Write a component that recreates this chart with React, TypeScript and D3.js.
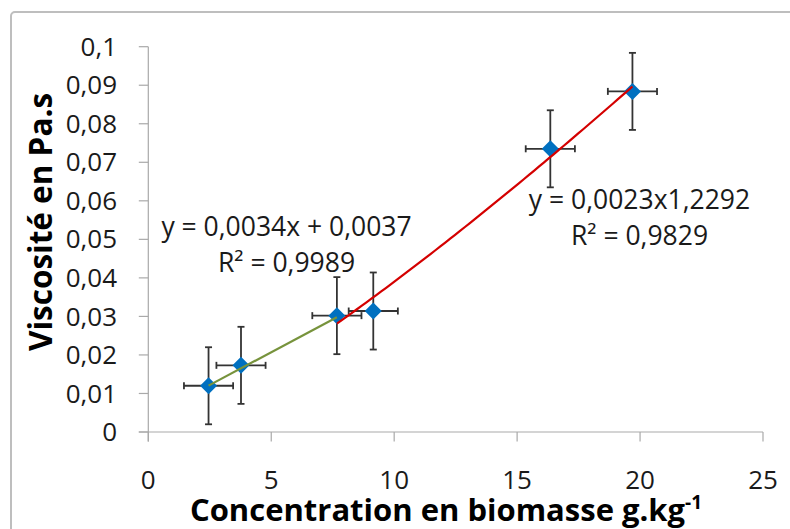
import React from "react";
import * as d3 from "d3";

const concentration = [2.45, 3.77, 7.67, 9.15, 16.35, 19.69];
const viscosity = [0.012, 0.0173, 0.0302, 0.0314, 0.0735, 0.0884];
const xError = [1, 1, 1, 1, 1, 1];
const yError = [0.01, 0.01, 0.01, 0.01, 0.01, 0.01];

const xTicks = [0, 5, 10, 15, 20, 25];
const yTicks = [0, 0.01, 0.02, 0.03, 0.04, 0.05, 0.06, 0.07, 0.08, 0.09, 0.1];

// trend line coefficients (from the equations shown)
const linearFit = { slope: 0.0034, intercept: 0.0037, from: 2.45, to: 7.67 };
const powerFit = { coef: 0.0023, exponent: 1.2292, from: 7.67, to: 19.69 };

const linearLabel = ["y = 0,0034x + 0,0037", "R² = 0,9989"];
const powerLabel = ["y = 0,0023x1,2292", "R² = 0,9829"];

const xTitle = "Concentration en biomasse g.kg";
const yTitle = "Viscosité en Pa.s";

const FONT = "'Open Sans', 'Noto Sans', sans-serif";

export default function App() {
  const W = 790;
  const H = 529;
  const x = d3.scaleLinear().domain([0, 25]).range([148.3, 763]);
  const y = d3.scaleLinear().domain([0, 0.1]).range([432, 46.7]);

  const fmt = (v: number) => (v === 0 ? "0" : d3.format(".2~f")(v).replace(".", ","));

  const line = d3
    .line<[number, number]>()
    .x((d) => x(d[0]))
    .y((d) => y(d[1]));

  const linPts: [number, number][] = [linearFit.from, linearFit.to].map((v) => [
    v,
    linearFit.slope * v + linearFit.intercept,
  ]);
  const powXs = d3.range(0, 61).map((i) => powerFit.from + ((powerFit.to - powerFit.from) * i) / 60);
  const powPts: [number, number][] = powXs.map((v) => [v, powerFit.coef * Math.pow(v, powerFit.exponent)]);

  const axisColor = "#A9A9A9";
  const errColor = "#333333";
  const cap = 3.5;
  const m = 8.5;

  return (
    <svg
      width={W}
      height={H}
      style={{ position: "absolute", left: 0, top: 0, background: "#fff" }}
      fontFamily={FONT}
    >
      <rect x={0} y={0} width={W} height={H} fill="#fff" />
      <rect x={11} y={12} width={800} height={560} rx={4} fill="none" stroke="#BEBEBE" strokeWidth={2} />

      {/* Y axis */}
      <line x1={x(0)} x2={x(0)} y1={y(0.1)} y2={y(0) + 9.5} stroke={axisColor} strokeWidth={1.2} />
      {yTicks.map((t) => (
        <g key={"yt" + t}>
          <line x1={x(0) - 9.5} x2={x(0)} y1={y(t)} y2={y(t)} stroke={axisColor} strokeWidth={1.2} />
          <text x={117} y={y(t)} dy="0.35em" textAnchor="end" fontSize={26} fill="#1a1a1a">
            {fmt(t)}
          </text>
        </g>
      ))}

      {/* X axis */}
      <line x1={x(0) - 9.5} x2={x(25)} y1={y(0)} y2={y(0)} stroke={axisColor} strokeWidth={1.2} />
      {xTicks.map((t) => (
        <g key={"xt" + t}>
          <line x1={x(t)} x2={x(t)} y1={y(0)} y2={y(0) + 9.5} stroke={axisColor} strokeWidth={1.2} />
          <text x={x(t)} y={489} textAnchor="middle" fontSize={26} fill="#1a1a1a">
            {t}
          </text>
        </g>
      ))}

      {/* Error bars */}
      {concentration.map((cx, i) => {
        const cy = viscosity[i];
        const x0 = x(cx - xError[i]);
        const x1 = x(cx + xError[i]);
        const y0 = y(cy - yError[i]);
        const y1 = y(cy + yError[i]);
        return (
          <g key={"e" + i} stroke={errColor} strokeWidth={1.8}>
            <line x1={x(cx)} x2={x(cx)} y1={y0} y2={y1} />
            <line x1={x(cx) - cap} x2={x(cx) + cap} y1={y0} y2={y0} />
            <line x1={x(cx) - cap} x2={x(cx) + cap} y1={y1} y2={y1} />
            <line x1={x0} x2={x1} y1={y(cy)} y2={y(cy)} />
            <line x1={x0} x2={x0} y1={y(cy) - cap} y2={y(cy) + cap} />
            <line x1={x1} x2={x1} y1={y(cy) - cap} y2={y(cy) + cap} />
          </g>
        );
      })}

      {/* Markers */}
      {concentration.map((cx, i) => {
        const px = x(cx);
        const py = y(viscosity[i]);
        return (
          <path
            key={"m" + i}
            d={`M${px},${py - m}L${px + m},${py}L${px},${py + m}L${px - m},${py}Z`}
            fill="#0070C0"
          />
        );
      })}

      {/* Trend lines */}
      <path d={line(linPts) || ""} fill="none" stroke="#77933C" strokeWidth={2.2} />
      <path d={line(powPts) || ""} fill="none" stroke="#D40000" strokeWidth={2.2} />

      {/* Equations */}
      <text x={286.5} y={236} textAnchor="middle" fontSize={26.5} fill="#1a1a1a">
        {linearLabel[0]}
      </text>
      <text x={286.5} y={272} textAnchor="middle" fontSize={26.5} fill="#1a1a1a">
        {linearLabel[1]}
      </text>
      <text x={639.5} y={208.5} textAnchor="middle" fontSize={26.5} fill="#1a1a1a">
        {powerLabel[0]}
      </text>
      <text x={639.5} y={245} textAnchor="middle" fontSize={26.5} fill="#1a1a1a">
        {powerLabel[1]}
      </text>

      {/* Axis titles */}
      <text
        transform={`translate(52,222) rotate(-90)`}
        textAnchor="middle"
        fontSize={31.5}
        fontWeight="bold"
        fill="#000"
      >
        {yTitle}
      </text>
      <text x={446} y={521} textAnchor="middle" fontSize={31} fontWeight="bold" fill="#000">
        {xTitle}
        <tspan dy={-12} fontSize={19}>
          -1
        </tspan>
      </text>
    </svg>
  );
}
